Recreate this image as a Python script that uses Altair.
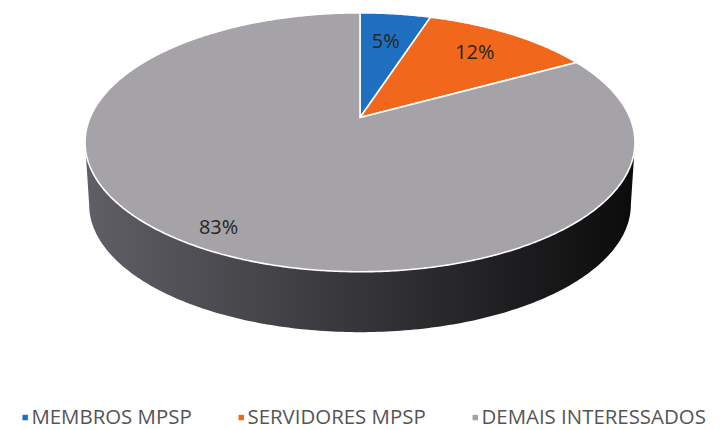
import math
import altair as alt

# ---------------- data ----------------
categories = ["MEMBROS MPSP", "SERVIDORES MPSP", "DEMAIS INTERESSADOS"]
values = [5, 12, 83]
labels = ["5%", "12%", "83%"]
colors = ["#1f70c0", "#f1671c", "#a5a3a8"]

# ---------------- layout (chart pixels) ----------------
W, H = 714, 422
CX, CY = 353.5, 109.0          # projected pie centre (top face)
A, B, K = 125.2, 271.0, 0.192  # vertical / horizontal radius, perspective factor
DEPTH = 63
SHRINK = 0.985
label_r = [0.69, 0.74, 0.88]


def proj(t_deg, r=1.0, dy=0.0, s=1.0):
    t = math.radians(t_deg)
    u, v = r * math.sin(t), r * math.cos(t)
    d = 1 + K * v
    return [CX + s * B * u / d, CY + dy - s * A * v / d]


total = float(sum(values))
starts, ends = [], []
acc = 0.0
for v in values:
    starts.append(acc / total * 360.0)
    acc += v
    ends.append(acc / total * 360.0)

# top-face slices
slice_feats = []
for cat, a0, a1 in zip(categories, starts, ends):
    n = max(2, int((a1 - a0) * 2))
    ring = [proj(0, r=0.0)]
    for i in range(n + 1):
        ring.append(proj(a0 + (a1 - a0) * i / n))
    ring.append(proj(0, r=0.0))
    slice_feats.append({"type": "Feature",
                        "geometry": {"type": "Polygon", "coordinates": [ring]},
                        "properties": {"name": cat}})

# front side of the cylinder
t1 = math.degrees(math.acos(-K))
t2 = 360.0 - t1
m = 200
top_arc = [proj(t1 + (t2 - t1) * i / m) for i in range(m + 1)]
bot_arc = [proj(t1 + (t2 - t1) * i / m, dy=DEPTH, s=SHRINK) for i in range(m + 1)]
side_ring = top_arc + bot_arc[::-1] + [top_arc[0]]
side_feats = [{"type": "Feature",
               "geometry": {"type": "Polygon", "coordinates": [side_ring]},
               "properties": {"name": "side"}}]

# labels
label_rows = []
for lab, a0, a1, r in zip(labels, starts, ends, label_r):
    x, y = proj((a0 + a1) / 2.0, r=r)
    label_rows.append({"label": lab, "x": x, "y": y})

side_grad = alt.Gradient(
    gradient="linear",
    stops=[alt.GradientStop(color="#605f66", offset=0),
           alt.GradientStop(color="#3a3a3e", offset=0.45),
           alt.GradientStop(color="#1c1c1e", offset=0.8),
           alt.GradientStop(color="#0b0b0b", offset=1)],
    x1=0, x2=1, y1=0, y2=0,
)

side = alt.Chart(alt.Data(values=side_feats)).mark_geoshape(
    fill=side_grad, strokeOpacity=0
)

top = alt.Chart(alt.Data(values=slice_feats)).mark_geoshape(
    stroke="white", strokeWidth=1.6
).encode(
    color=alt.Color(
        "properties.name:N",
        scale=alt.Scale(domain=categories, range=colors),
        sort=categories,
        legend=alt.Legend(
            title=None, orient="none", legendX=7, legendY=400,
            direction="horizontal", symbolType="square", symbolSize=30,
            symbolStrokeWidth=0, labelFont="Open Sans", labelFontSize=20.5,
            labelColor="#555555", labelLimit=600, labelOffset={"expr": "-4"},
            columnPadding=39, padding=0,
        ),
    )
)

text = alt.Chart(alt.Data(values=label_rows)).mark_text(
    font="Open Sans", fontSize=20, color="#262626", baseline="middle", align="center"
).encode(
    longitude="x:Q", latitude="y:Q", text="label:N"
)

chart = alt.layer(side, top, text).project(
    type="identity", scale=1, translate=[0, 0]
).properties(
    width=W, height=H, padding=0, autosize=alt.AutoSizeParams(type="none"),
    background="white",
).configure_view(stroke=None)

chart.save("out.html", embed_options={"renderer": "svg", "actions": False})
